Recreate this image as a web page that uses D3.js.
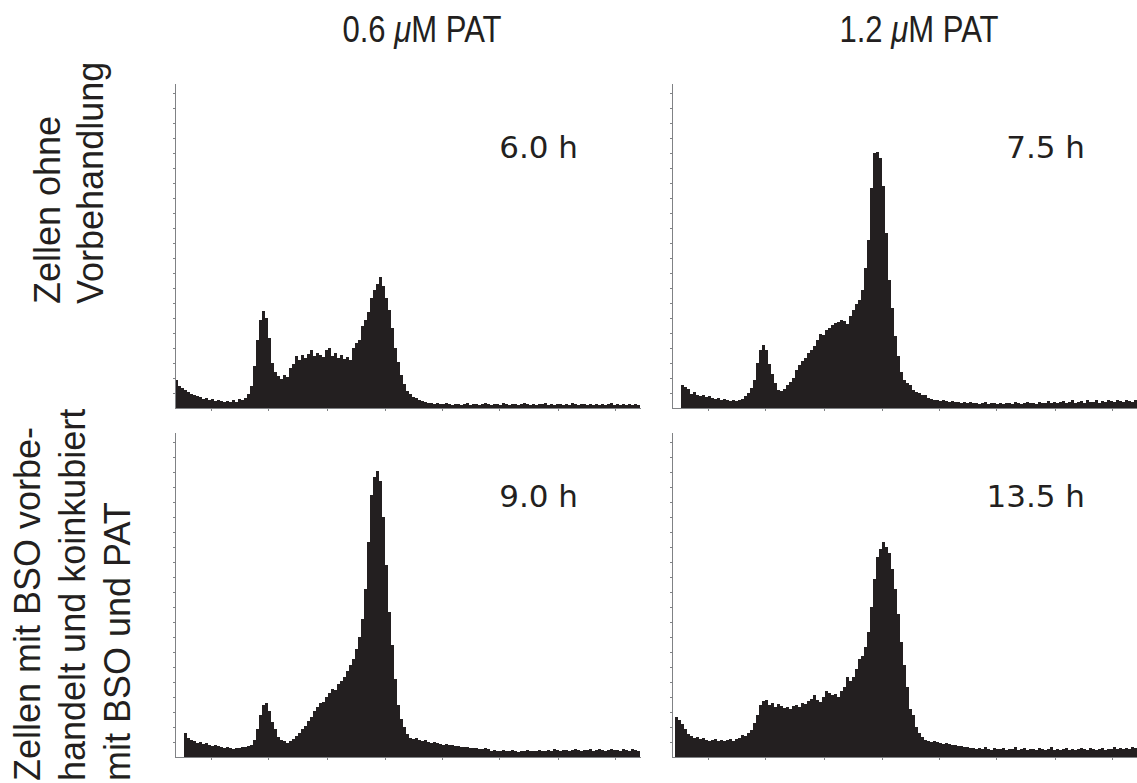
<!DOCTYPE html>
<html>
<head>
<meta charset="utf-8">
<script src="https://cdn.jsdelivr.net/npm/d3@7"></script>
<style>
    body { margin: 0; background: #ffffff; }
    svg text { fill: #231f20; }
    .axis path, .axis line { stroke: #808285; stroke-width: 1; shape-rendering: crispEdges; }
</style>
</head>
<body>
<div id="Histo"></div>
<script>
// Column titles (PAT concentration) and row titles (pretreatment)
var colTitles = [["0.6 ", "\u03BC", "M PAT"], ["1.2 ", "\u03BC", "M PAT"]];
var rowTitles = [
    ["Zellen ohne", "Vorbehandlung"],
    ["Zellen mit BSO vorbe-", "handelt und koinkubiert", "mit BSO und PAT"]
];
var timeLabels = ["6.0 h", "7.5 h", "9.0 h", "13.5 h"];

// Histogram counts, one value per channel group (155 groups per panel)
var counts_06_noPre = [
    28,22,20,18,16,14,13,12,11,9,
    10,8,9,7,8,7,6,7,6,8,
    6,9,8,10,14,22,42,68,88,97,
    90,70,45,36,32,29,33,31,40,44,
    52,48,53,50,54,58,52,55,53,51,
    58,60,52,55,50,53,49,51,48,60,
    65,68,82,88,96,110,118,124,131,122,
    110,98,80,60,46,33,24,17,14,11,
    10,8,7,6,5,5,4,5,4,4,
    5,4,3,4,4,3,4,5,3,4,
    4,3,4,5,4,3,4,4,3,5,
    4,3,4,4,3,4,5,4,3,4,
    3,4,4,5,3,4,3,4,4,3,
    4,3,5,4,3,4,4,3,4,3,
    4,3,4,3,4,5,3,4,3,4,
    3,4,3,4,3
];
var counts_12_noPre = [
    0,0,0,23,21,19,14,16,13,12,
    13,11,12,10,9,10,8,9,8,7,
    8,7,8,9,12,15,20,28,45,58,
    63,58,44,34,25,18,17,19,23,26,
    30,38,43,47,50,55,58,62,68,74,
    73,78,80,83,85,86,88,87,84,92,
    98,104,108,118,140,168,220,255,256,250,
    222,175,128,100,72,52,36,28,25,23,
    18,16,15,13,13,10,9,8,8,7,
    8,7,6,7,6,6,5,6,5,6,
    5,5,4,5,6,4,5,5,4,5,
    4,5,5,4,6,5,4,5,6,5,
    5,4,6,5,5,7,5,6,5,6,
    7,5,6,8,5,6,7,5,8,6,
    6,8,5,7,6,8,7,6,8,7,
    6,8,7,6,8
];
var counts_06_bso = [
    0,0,0,24,19,17,16,14,15,13,
    14,12,11,12,11,10,9,10,9,8,
    9,9,10,10,11,12,17,28,42,52,
    54,46,35,28,20,17,16,14,16,18,
    21,24,28,31,36,40,46,50,54,55,
    60,64,68,67,73,76,80,86,92,98,
    108,120,138,168,215,262,280,286,276,240,
    192,145,112,78,52,38,30,23,19,18,
    19,17,16,17,15,14,15,14,13,12,
    13,12,12,11,11,10,10,10,9,9,
    9,8,8,9,8,6,7,6,6,7,
    6,6,7,6,5,6,6,7,6,6,
    6,7,6,6,7,6,8,7,6,7,
    7,6,7,8,7,6,7,7,8,6,
    7,8,7,6,7,8,7,7,6,8,
    7,6,8,7,6
];
var counts_12_bso = [
    0,40,37,33,28,23,21,19,20,18,
    19,17,16,17,18,16,17,16,17,18,
    16,18,19,22,21,24,27,34,42,52,
    56,57,52,54,50,53,51,49,50,48,
    51,52,50,54,53,56,58,62,57,55,
    60,66,64,62,63,60,66,70,80,76,
    80,88,98,101,110,125,150,178,200,208,
    215,210,204,188,168,143,115,92,70,48,
    42,30,24,20,17,16,15,16,15,14,
    13,14,13,12,12,11,11,10,10,9,
    9,8,9,8,10,8,7,9,8,8,
    9,7,8,8,10,7,8,9,7,8,
    8,7,9,8,7,8,10,7,8,7,
    8,9,7,8,7,8,9,8,7,9,
    8,7,8,9,7,8,8,10,8,9,
    8,9,8,10,9
];

// Bottom axis tick positions (channel groups)
var xTicks = [12, 31, 50.5, 70, 89, 108, 127.5, 146.5];

// Layout of the 2x2 grid
var panelW = 465, panelH = 325;
var colX = [175, 672];
var rowY = [83, 432];
var nBins = 155;

var svg = d3.select("#Histo")
    .append("svg")
    .attr("width", 1137)
    .attr("height", 783);

var panels = [
    {col: 0, row: 0, data: counts_06_noPre, label: timeLabels[0], labelEnd: 403},
    {col: 1, row: 0, data: counts_12_noPre, label: timeLabels[1], labelEnd: 413},
    {col: 0, row: 1, data: counts_06_bso, label: timeLabels[2], labelEnd: 403},
    {col: 1, row: 1, data: counts_12_bso, label: timeLabels[3], labelEnd: 413}
];

panels.forEach(function (p) {
    var g = svg.append("g")
        .attr("transform", "translate(" + colX[p.col] + "," + rowY[p.row] + ")");

    var xScale = d3.scaleLinear().domain([0, nBins]).range([0, panelW]);
    var yScale = d3.scaleLinear().domain([0, panelH]).range([panelH, 0]);

    // Filled histogram as a step area
    var area = d3.area()
        .curve(d3.curveStepAfter)
        .x(function (d, i) { return xScale(i); })
        .y0(yScale(0))
        .y1(function (d) { return yScale(d); });

    var pts = p.data.concat([p.data[p.data.length - 1]]);
    g.append("path")
        .datum(pts)
        .attr("d", area)
        .attr("fill", "#231f20");

    // Axes with tiny ticks, no labels
    g.append("g")
        .attr("class", "axis")
        .attr("transform", "translate(0," + panelH + ")")
        .call(d3.axisBottom(xScale).tickValues(xTicks).tickSize(3).tickSizeOuter(0).tickFormat(""));

    g.append("g")
        .attr("class", "axis")
        .call(d3.axisLeft(yScale).tickValues(d3.range(15, panelH, 15)).tickSize(2).tickSizeOuter(0).tickFormat(""));

    // Incubation time label
    g.append("text")
        .attr("x", p.labelEnd)
        .attr("y", 75)
        .attr("text-anchor", "end")
        .style("font-family", "'DejaVu Sans', sans-serif")
        .style("font-size", "31px")
        .text(p.label);
});

// Column titles, squeezed horizontally to the narrow look of the original
colTitles.forEach(function (t, c) {
    var txt = svg.append("text")
        .attr("transform", "translate(" + (colX[c] + 247) + ",42)scale(0.84,1)")
        .attr("text-anchor", "middle")
        .style("font-family", "'Liberation Sans', Arial, sans-serif")
        .style("font-size", "37px");
    txt.append("tspan").text(t[0]);
    txt.append("tspan").style("font-style", "italic").text(t[1]);
    txt.append("tspan").text(t[2]);
});

// Row titles, rotated
var rowBase = [[60, 103], [40, 85, 130]];
var rowStart = [304, 781];
rowTitles.forEach(function (lines, r) {
    lines.forEach(function (line, k) {
        svg.append("text")
            .attr("transform", "translate(" + rowBase[r][k] + "," + rowStart[r] + ")rotate(-90)")
            .attr("text-anchor", "start")
            .style("font-family", "'Liberation Sans', Arial, sans-serif")
            .style("font-size", "36px")
            .text(line);
    });
});
</script>
</body>
</html>
